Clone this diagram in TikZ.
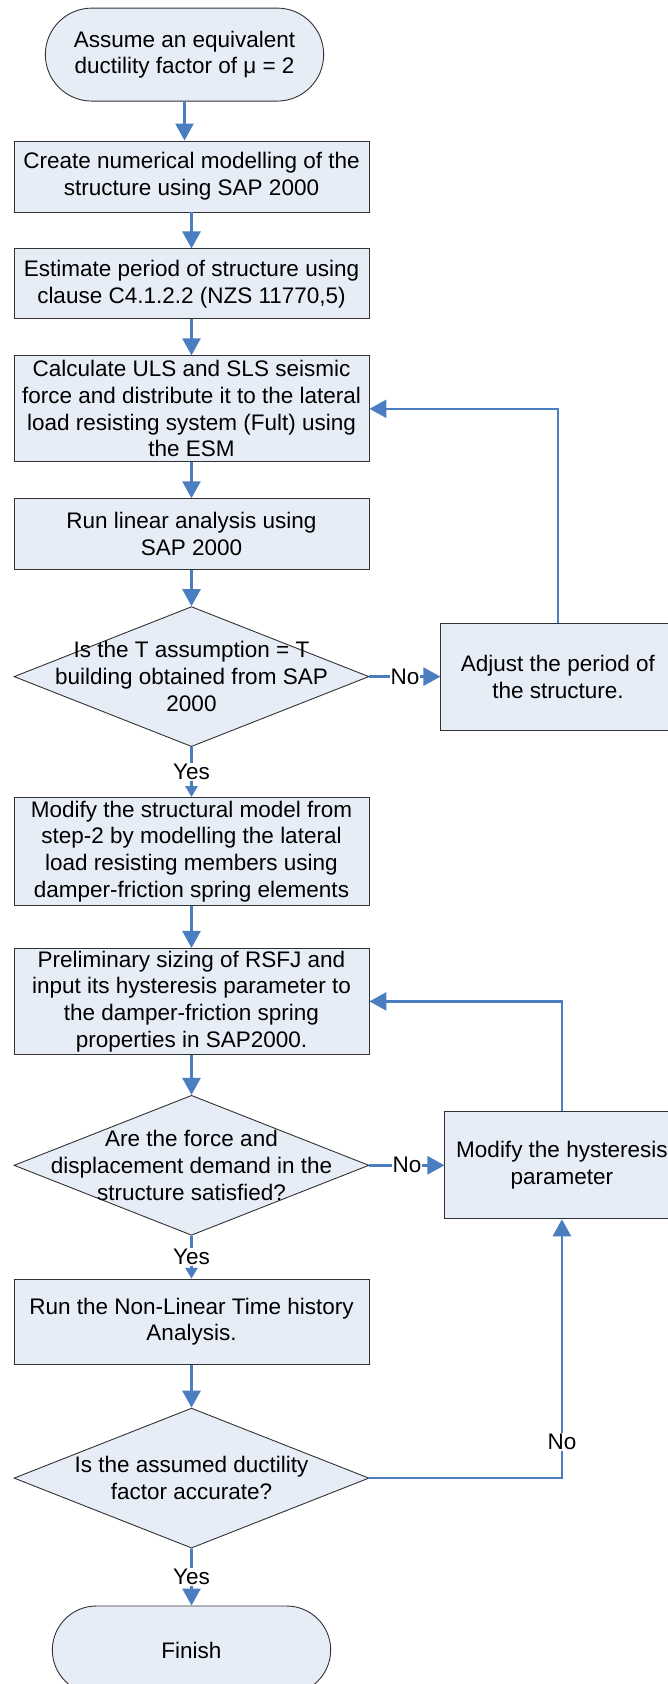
\documentclass[tikz,border=0pt]{standalone}
\usepackage{fontspec}
\setmainfont{Liberation Sans}
\usepackage{tikz}
\usetikzlibrary{arrows.meta,positioning,shapes.geometric,shapes.misc}
\definecolor{boxfill}{RGB}{231,237,247}
\definecolor{linkblue}{RGB}{74,126,192}
\definecolor{edgegray}{RGB}{50,50,50}

\begin{document}
\begin{tikzpicture}[
    x=1pt, y=-1pt,
    node distance=36pt,
    every node/.style={font=\fontsize{22.5}{26.7}\selectfont},
    box/.style={draw=edgegray, line width=0.9pt, fill=boxfill, minimum width=355pt, inner sep=1pt, align=center},
    term/.style={draw=edgegray, line width=0.9pt, fill=boxfill, rounded rectangle, minimum width=285pt, minimum height=93pt, align=center},
    dec/.style={draw=edgegray, line width=0.9pt, fill=boxfill, diamond, minimum width=355pt, minimum height=140pt, inner sep=0pt},
    side/.style={box, minimum width=234pt, minimum height=107pt},
    arr/.style={-{Triangle[length=17pt,width=18pt]}, linkblue, line width=2.6pt},
    sarr/.style={-{Triangle[length=11pt,width=12pt]}, linkblue, line width=2.6pt},
    lbl/.style={fill=white, text=black, inner sep=1pt}
]
\useasboundingbox (0,0) rectangle (667,1684);
\node[box, minimum height=71pt] (model) at (191.5,176.5) {Create numerical modelling of the\\structure using SAP 2000};
\node[term, above=39pt of model, xshift=-7pt] (start) {Assume an equivalent\\ductility factor of μ = 2};
\node[box, minimum height=70pt, below=of model] (period) {Estimate period of structure using\\clause C4.1.2.2 (NZS 11770,5)};
\node[box, minimum height=106pt, below=of period] (force) {Calculate ULS and SLS seismic\\force and distribute it to the lateral\\load resisting system (Fult) using\\the ESM};
\node[box, minimum height=71pt, below=of force] (linear) {Run linear analysis using\\SAP 2000};
\node[dec, below=of linear] (qperiod) {};
\node[align=center] (qperiodtxt) at (qperiod) {Is the T assumption = T\\building obtained from SAP\\2000};
\node[side, right=71pt of qperiod] (adjust) {Adjust the period of\\the structure.};
\node[box, minimum height=108pt, below=50pt of qperiod] (modify) {Modify the structural model from\\step-2 by modelling the lateral\\load resisting members using\\damper-friction spring elements};
\node[box, minimum height=106pt, below=42pt of modify] (sizing) {Preliminary sizing of RSFJ and\\input its hysteresis parameter to\\the damper-friction spring\\properties in SAP2000.};
\node[dec, below=40pt of sizing] (qdemand) {};
\node[align=center] (qdemandtxt) at (qdemand) {Are the force and\\displacement demand in the\\structure satisfied?};
\node[side, right=75pt of qdemand] (hyst) {Modify the hysteresis\\parameter};
\node[box, minimum height=85pt, below=43pt of qdemand] (nltha) {Run the Non-Linear Time history\\Analysis.};
\node[dec, below=43pt of nltha] (qductility) {};
\node[align=center] (qductilitytxt) at (qductility) {Is the assumed ductility\\factor accurate?};
\node[term, minimum height=88pt, below=57pt of qductility] (finish) {Finish};
\draw[arr] (start) -- (start |- model.north); \draw[arr] (model) -- (period);
\draw[arr] (period) -- (force); \draw[arr] (force) -- (linear);
\draw[arr] (linear) -- (qperiod);
\draw[arr] (qperiod) -- node[lbl] (no1) {No} (adjust);
\draw[arr] (adjust.north) |- (force.east);
\draw[sarr] (qperiod) -- node[lbl] (yes1) {Yes} (modify);
\draw[arr] (modify) -- (sizing); \draw[arr] (sizing) -- (qdemand);
\draw[arr] (qdemand) -- node[lbl] (no2) {No} (hyst);
\draw[arr] (hyst.north) |- (sizing.east);
\draw[sarr] (qdemand) -- node[lbl] (yes2) {Yes} (nltha);
\draw[arr] (nltha) -- (qductility);
\draw[arr] (qductility.east) -| node[lbl, pos=0.57] (no3) {No} (hyst.south);
\draw[arr] (qductility) -- node[lbl] (yes3) {Yes} (finish);
\end{tikzpicture}
\end{document}
